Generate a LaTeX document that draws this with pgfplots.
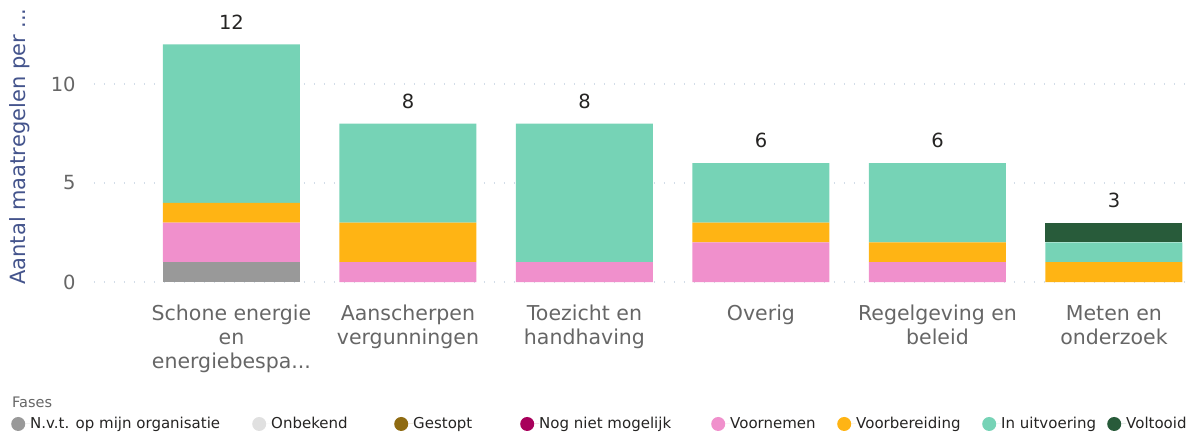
\documentclass[border=0pt]{standalone}
\usepackage{pgfplots}
\pgfplotsset{compat=1.18}
\usepackage{pgfplotstable}
\usepackage{fontspec}
\setmainfont{DejaVu Sans}
\definecolor{cNvt}{HTML}{999999}
\definecolor{cOnb}{HTML}{E0E0E0}
\definecolor{cGes}{HTML}{8F6B12}
\definecolor{cNog}{HTML}{A8005B}
\definecolor{cVrn}{HTML}{F090CC}
\definecolor{cVrb}{HTML}{FFB414}
\definecolor{cUit}{HTML}{76D3B6}
\definecolor{cVol}{HTML}{285B3A}
\definecolor{tickgrey}{HTML}{666666}
\definecolor{ylab}{HTML}{44548C}
\definecolor{dark}{HTML}{252423}
\definecolor{gridc}{HTML}{D3DDE8}
\newcommand{\dd}{.{}.{}.}
\pgfplotstableread{
x nvt onb ges nog vrn vrb uit vol tot
0 1 0 0 0 2 1 8 0 12
1 0 0 0 0 1 2 5 0 8
2 0 0 0 0 1 0 7 0 8
3 0 0 0 0 2 1 3 0 6
4 0 0 0 0 1 1 4 0 6
5 0 0 0 0 0 1 1 1 3
}\datatable
\pgfplotsset{
  circleimg/.style={legend image code/.code={\fill[##1,draw=none] (7pt,0pt) circle (7pt); \path (0pt,0pt) -- (19pt,0pt);}},
  common/.style={at={(93.8pt,152pt)}, anchor=south west,
  scale only axis, width=1097.8pt, height=247.5pt,
  xmin=-0.78, xmax=5.44, ymin=0, ymax=12.5, clip=false,
  /pgf/number format/assume math mode=true}
}
\begin{document}
\begin{tikzpicture}
\useasboundingbox (0,0) rectangle (1194pt,434pt);
\begin{axis}[
  common,
  ybar stacked, bar width=137pt,
  axis line style={draw=none},
  tick style={draw=none},
  ytick={0,5,10},
  ymajorgrids,
  major grid style={color=gridc, line width=1.5pt, dash pattern=on 1.5pt off 8.5pt},
  xtick={0,1,2,3,4,5},
  xticklabels={{Schone energie\\en\\energiebespa\dd},{Aanscherpen\\vergunningen},{Toezicht en\\handhaving},{Overig},{Regelgeving en\\beleid},{Meten en\\onderzoek}},
  xticklabel style={align=center, anchor=north, inner sep=0pt, yshift=-23pt, font=\fontsize{20.5}{24}\selectfont, text=tickgrey},
  yticklabel style={anchor=east, inner sep=0pt, xshift=-18pt, font=\fontsize{19.5}{23}\selectfont, text=tickgrey},
  ylabel={Aantal maatregelen per \dd},
  ylabel style={at={(axis description cs:-0.0672,0.5475)}, anchor=center, rotate=0, font=\fontsize{21}{24}\selectfont, text=ylab},
  legend columns=8,
  legend cell align=left,
  legend style={at={(-0.0754,-0.5737)}, anchor=west, draw=none, fill=none, inner sep=0pt, column sep=0pt, nodes={inner sep=0pt}, font=\fontsize{15}{18}\selectfont, text=dark},
]
\addplot[fill=cNvt, draw=none, circleimg] table[x=x,y=nvt]{\datatable};
\addlegendentry{\makebox[222pt][l]{N.v.t. op mijn organisatie}}
\addplot[fill=cOnb, draw=none, circleimg] table[x=x,y=onb]{\datatable};
\addlegendentry{\makebox[123pt][l]{Onbekend}}
\addplot[fill=cGes, draw=none, circleimg] table[x=x,y=ges]{\datatable};
\addlegendentry{\makebox[107pt][l]{Gestopt}}
\addplot[fill=cNog, draw=none, circleimg] table[x=x,y=nog]{\datatable};
\addlegendentry{\makebox[172pt][l]{Nog niet mogelijk}}
\addplot[fill=cVrn, draw=none, circleimg] table[x=x,y=vrn]{\datatable};
\addlegendentry{\makebox[107pt][l]{Voornemen}}
\addplot[fill=cVrb, draw=none, circleimg] table[x=x,y=vrb]{\datatable};
\addlegendentry{\makebox[126pt][l]{Voorbereiding}}
\addplot[fill=cUit, draw=none, circleimg] table[x=x,y=uit]{\datatable};
\addlegendentry{\makebox[106pt][l]{In uitvoering}}
\addplot[fill=cVol, draw=none, circleimg] table[x=x,y=vol]{\datatable};
\addlegendentry{Voltooid}
\node[anchor=west, inner sep=0pt, font=\fontsize{14.5}{17}\selectfont, text=tickgrey] at (axis description cs:-0.0745,-0.4848) {Fases};
\end{axis}
\begin{axis}[common, hide axis]
\addplot[draw=none, mark=none, point meta=explicit,
  nodes near coords, every node near coord/.append style={anchor=south, inner sep=0pt, yshift=15pt, font=\fontsize{19.5}{23}\selectfont, text=dark}]
  table[x=x,y=tot,meta=tot]{\datatable};
\end{axis}
\end{tikzpicture}
\end{document}
